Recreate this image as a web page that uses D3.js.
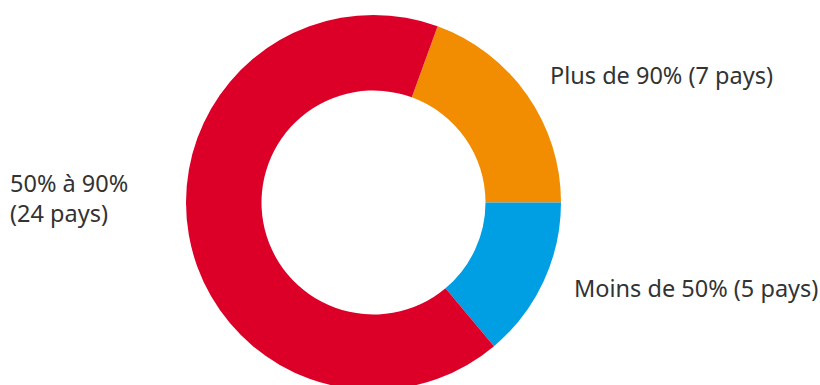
<!DOCTYPE html>
<html><head><meta charset="utf-8">
<script src="https://cdn.jsdelivr.net/npm/d3@7"></script>
<style>body{margin:0;background:#fff}svg{display:block}text{font-family:"Noto Sans",sans-serif;fill:#333}</style>
</head><body><svg id="c" width="820" height="385"></svg>
<script>
const categories = ["Plus de 90%", "Moins de 50%", "50% à 90%"];
const values = [7, 5, 24];
const labelLines = [["Plus de 90% (7 pays)"], ["Moins de 50% (5 pays)"], ["50% à 90%", "(24 pays)"]];
const colors = ["#F28C00", "#009FE3", "#DC0028"];

const svg = d3.select("#c");
const cx = 373.5, cy = 202.5, rOuter = 187.5, rInner = 112;
const startOffset = 20 * Math.PI / 180;
const pie = d3.pie().sort(null).value(d => d)
  .startAngle(startOffset).endAngle(startOffset + 2 * Math.PI);
const arc = d3.arc().innerRadius(rInner).outerRadius(rOuter);
const g = svg.append("g").attr("transform", `translate(${cx},${cy})`);
g.selectAll("path").data(pie(values)).join("path")
  .attr("d", arc).attr("fill", (d, i) => colors[i]);

const labelPos = [{x: 550, y: 84}, {x: 574, y: 297}, {x: 10, y: 192}];
const fs = 23.5;
labelLines.forEach((lines, i) => {
  const t = svg.append("text").attr("x", labelPos[i].x).attr("y", labelPos[i].y)
    .attr("font-size", fs);
  lines.forEach((l, j) => t.append("tspan").attr("x", labelPos[i].x).attr("dy", j ? 30 : 0).text(l));
});
</script></body></html>
